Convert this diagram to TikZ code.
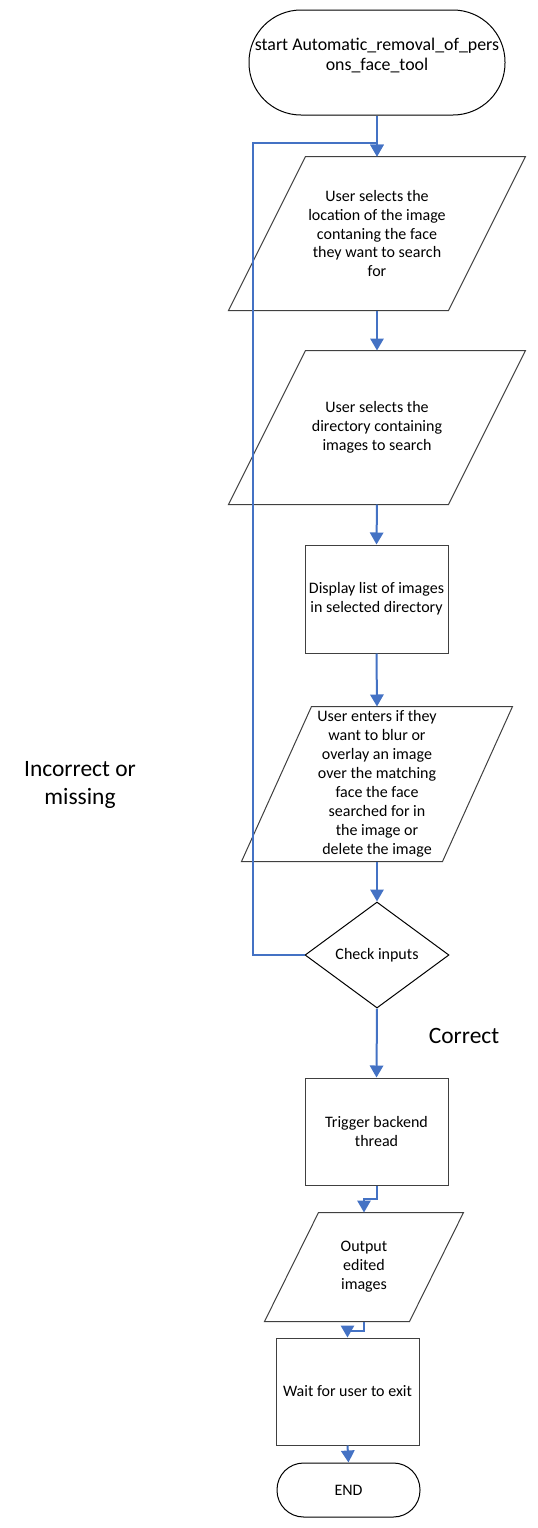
\documentclass[tikz,border=0pt]{standalone}
\usepackage{fontspec}
\setmainfont{Carlito}
\usetikzlibrary{shapes.geometric,arrows.meta}

\definecolor{flowblue}{RGB}{68,114,196}
\definecolor{edgegrey}{RGB}{64,64,64}

\tikzset{every picture/.style={line width=0.75pt}}
\tikzset{
  boxtext/.style={font=\fontsize{12}{14.2}\selectfont, align=center},
  terminal/.style={draw=black, rectangle, inner sep=0pt, align=center},
  % #1 = horizontal offset between top and bottom edge
  inout/.style={boxtext, rectangle, inner sep=0pt,
    append after command={\pgfextra{\draw [draw=edgegrey]
      ([xshift=0.5*#1]\tikzlastnode.north west) -- ([xshift=0.5*#1]\tikzlastnode.north east)
      -- ([xshift=-0.5*#1]\tikzlastnode.south east) -- ([xshift=-0.5*#1]\tikzlastnode.south west) -- cycle;}}},
  process/.style={boxtext, draw=edgegrey, rectangle, inner sep=1pt, minimum width=107.25pt, minimum height=80.25pt},
  decision/.style={boxtext, draw=black, diamond, aspect=1.36, inner sep=1pt, minimum width=108pt, minimum height=79.5pt},
  flow/.style={draw=flowblue, line width=1.5pt, -{Triangle[width=10pt,length=9pt]}},
  looplabel/.style={font=\fontsize{17.6}{21}\selectfont, align=center}
}

\begin{document}
\begin{tikzpicture}[x=0.75pt,y=0.75pt,yscale=-1,xscale=1]
\useasboundingbox (0,0) rectangle (537,1528);

%Shape: Terminator [id:start]
\node [terminal, rounded corners=39pt, minimum width=192pt, minimum height=78.75pt, font=\fontsize{13.4}{15}\selectfont] (start) at (377,62.5) {start Automatic\_removal\_of\_pers\\ons\_face\_tool\\[-3pt]\mbox{}};
%Shape: Parallelogram [id:location]
\node [inout=57.75pt, minimum width=164.25pt, minimum height=114.75pt] (location) at (377,233.5) {User selects the\\location of the image\\contaning the face\\they want to search\\for};
%Shape: Parallelogram [id:directory]
\node [inout=57.75pt, minimum width=164.25pt, minimum height=114.75pt] (directory) at (377,427.5) {User selects the\\directory containing\\images to search};
%Shape: Rectangle [id:display]
\node [process, minimum height=81pt] (display) at (376.5,599) {Display list of images\\in selected directory};
%Shape: Parallelogram [id:mode]
\node [inout=52.5pt, minimum width=150pt, minimum height=115.5pt] (mode) at (377,784) {User enters if they\\want to blur or\\overlay an image\\over the matching\\face the face\\searched for in\\the image or\\delete the image};
%Shape: Diamond [id:check]
\node [decision] (check) at (377,955) {Check inputs};
%Shape: Rectangle [id:trigger]
\node [process] (trigger) at (376.5,1131.5) {Trigger backend\\thread};
%Shape: Parallelogram [id:output]
\node [inout=40.5pt, minimum width=108pt, minimum height=81pt] (output) at (364,1267) {Output\\edited\\images};
%Shape: Rectangle [id:wait]
\node [process] (wait) at (347.5,1391.5) {Wait for user to exit};
%Shape: Terminator [id:end]
\node [terminal, rounded corners=20pt, minimum width=107.25pt, minimum height=40.5pt, font=\fontsize{12}{14.2}\selectfont] (end) at (348.5,1490) {END};

\coordinate (loop) at (253,143);

%Straight Lines
\draw [flow] (start.south) -- (location.north);
\draw [flow] (location.south) -- (directory.north);
\draw [flow] (directory.south) -- (display.north);
\draw [flow] (display.south) -- (mode.north);
\draw [flow] (mode.south) -- (check.north);
\draw [flow] (check.south) -- (trigger.north);
\draw [flow] (trigger.south) -- ++(0,13) -| (output.north);
\draw [flow] (output.south) -- ++(0,9) -| (wait.north);
\draw [flow] (wait.south) -- (end.north);
%Straight Lines: way back
\draw [flow] (check.west) -| (loop) -| (location.north);

% Text Node
\node [looplabel] (wrong) at (80,785) {Incorrect or\\missing};
% Text Node
\node [looplabel] (right) at (464,1036) {Correct};

\end{tikzpicture}
\end{document}
